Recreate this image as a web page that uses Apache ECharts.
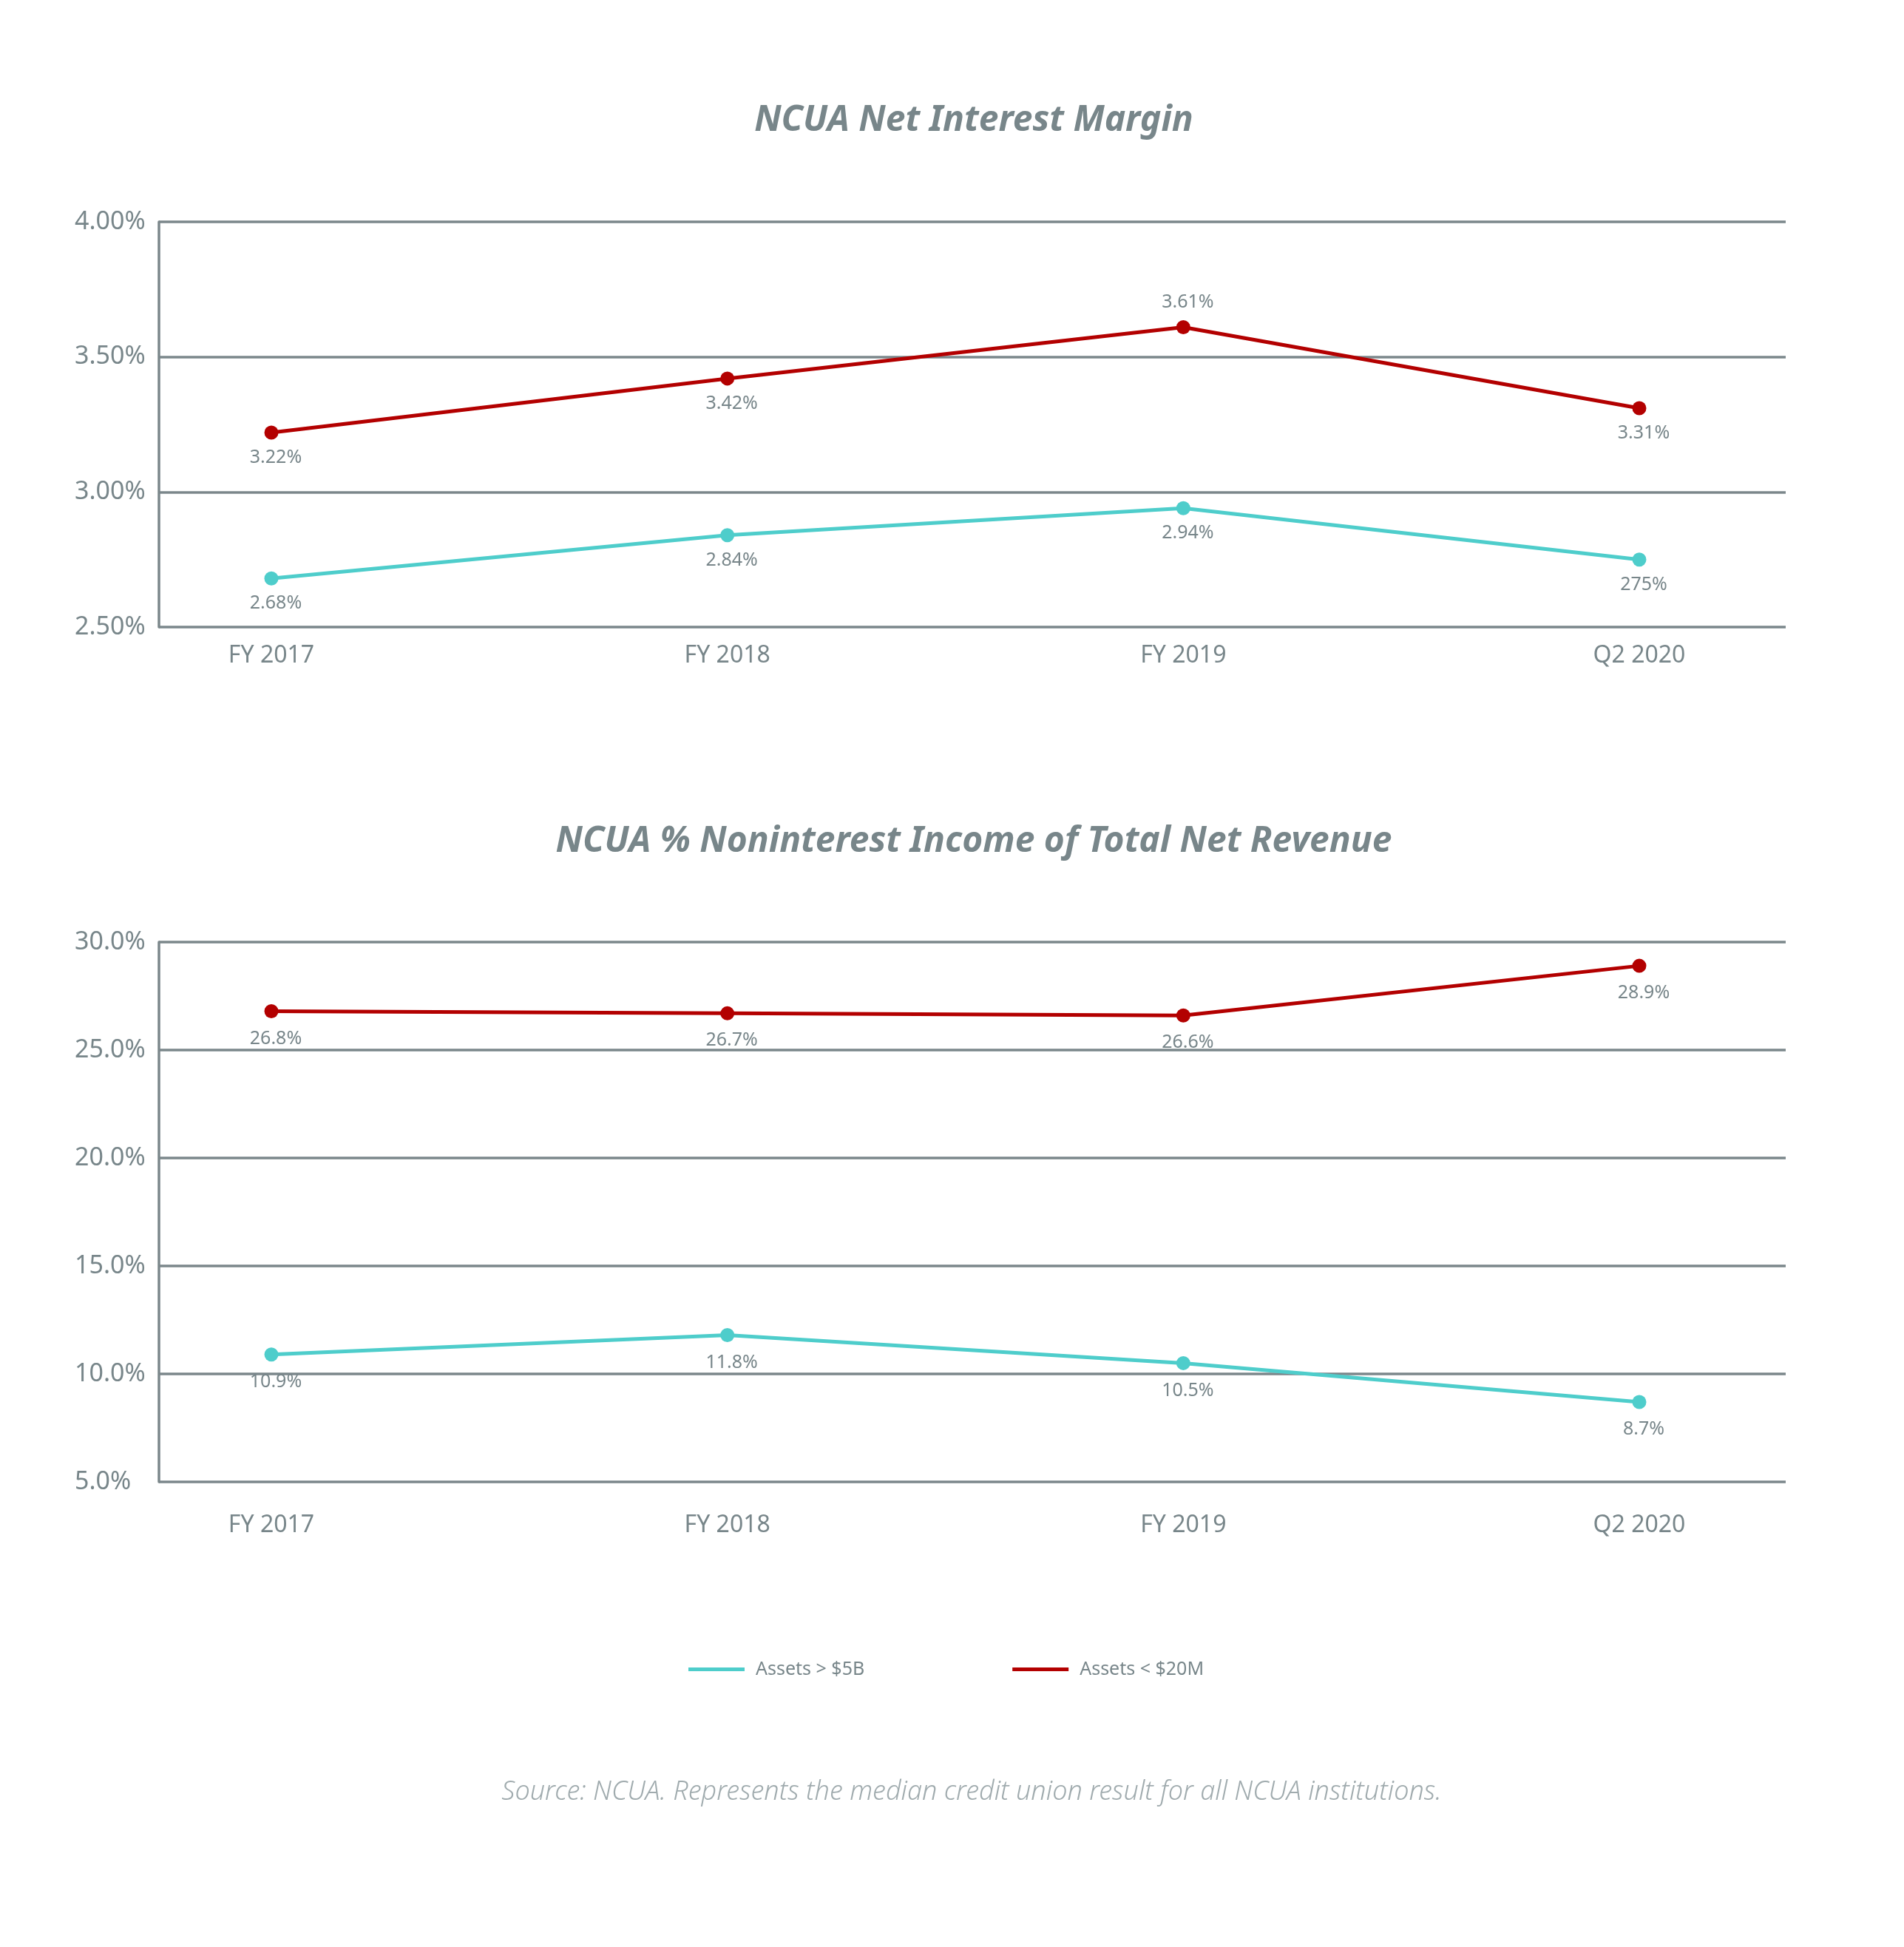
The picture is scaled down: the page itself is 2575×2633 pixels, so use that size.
<!DOCTYPE html>
<html>
<head>
<meta charset="utf-8">
<script src="https://cdn.jsdelivr.net/npm/echarts@6/dist/echarts.min.js"></script>
<style>
  html, body { margin: 0; padding: 0; background: #ffffff; }
  #chart { width: 2575px; height: 2633px; }
</style>
</head>
<body>
<div id="chart"></div>
<script>
// ---- Data ----
const categories = ['FY 2017', 'FY 2018', 'FY 2019', 'Q2 2020'];
const seriesNames = ['Assets > $5B', 'Assets < $20M'];

// Chart 1: NCUA Net Interest Margin (%)
const nimLarge = [2.68, 2.84, 2.94, 2.75];
const nimSmall = [3.22, 3.42, 3.61, 3.31];
const nimLargeLabels = ['2.68%', '2.84%', '2.94%', '275%'];
const nimSmallLabels = ['3.22%', '3.42%', '3.61%', '3.31%'];
const nimTicks = { min: 2.5, max: 4.0, interval: 0.5 };

// Chart 2: NCUA % Noninterest Income of Total Net Revenue (%)
const nonIntLarge = [10.9, 11.8, 10.5, 8.7];
const nonIntSmall = [26.8, 26.7, 26.6, 28.9];
const nonIntLargeLabels = ['10.9%', '11.8%', '10.5%', '8.7%'];
const nonIntSmallLabels = ['26.8%', '26.7%', '26.6%', '28.9%'];
const nonIntTicks = { min: 5, max: 30, interval: 5 };

const titles = ['NCUA Net Interest Margin', 'NCUA % Noninterest Income of Total Net Revenue'];
const sourceNote = 'Source: NCUA. Represents the median credit union result for all NCUA institutions.';

// ---- Styles ----
const FONT = '"Noto Sans", "Open Sans", sans-serif';
const GRAY = '#78868a';
const AXIS_GRAY = '#7b878b';
const CYAN = '#4ecdcb';
const RED = '#b30000';

const chart = echarts.init(document.getElementById('chart'), null, { renderer: 'canvas' });

function frameY(gridIndex, ticks, digits) {
  return {
    type: 'value', gridIndex: gridIndex,
    min: ticks.min, max: ticks.max, interval: ticks.interval,
    axisLine: { show: true, lineStyle: { color: AXIS_GRAY, width: 3.5 } },
    axisTick: { show: false },
    splitLine: { show: true, lineStyle: { color: AXIS_GRAY, width: 3.5 } },
    axisLabel: {
      align: 'left', margin: 114, color: GRAY, fontSize: 34, fontFamily: FONT,
      formatter: function (v) { return v.toFixed(digits) + '%'; }
    }
  };
}
function dataY(gridIndex, ticks) {
  return { type: 'value', gridIndex: gridIndex, min: ticks.min, max: ticks.max, interval: ticks.interval, show: false };
}
function dataX(gridIndex, margin) {
  return {
    type: 'category', gridIndex: gridIndex, data: categories, boundaryGap: false,
    axisLine: { show: false }, axisTick: { show: false }, splitLine: { show: false },
    axisLabel: { margin: margin, color: GRAY, fontSize: 32, fontFamily: FONT }
  };
}
function lineSeries(name, color, xIdx, yIdx, values, labels, topIdx, dist) {
  return {
    name: name, type: 'line', xAxisIndex: xIdx, yAxisIndex: yIdx,
    data: values.map(function (v, i) {
      return { value: v, label: { position: i === topIdx ? 'top' : 'bottom' } };
    }),
    symbol: 'circle', symbolSize: 19, z: 5,
    lineStyle: { color: color, width: 5 },
    itemStyle: { color: color },
    label: {
      show: true, distance: dist, offset: [6, 0], color: GRAY, fontSize: 25, fontFamily: FONT,
      formatter: function (p) { return labels[p.dataIndex]; }
    },
    emphasis: { disabled: true },
    animation: false
  };
}

const option = {
  backgroundColor: '#ffffff',
  animation: false,
  grid: [
    { left: 215, top: 300, width: 2200, height: 548 },   // chart 1 frame
    { left: 367, top: 300, width: 1850, height: 548 },   // chart 1 data
    { left: 215, top: 1274, width: 2200, height: 730 },  // chart 2 frame
    { left: 367, top: 1274, width: 1850, height: 730 }   // chart 2 data
  ],
  xAxis: [
    { type: 'value', gridIndex: 0, min: 0, max: 1, show: false },
    dataX(1, 23),
    { type: 'value', gridIndex: 2, min: 0, max: 1, show: false },
    dataX(3, 43)
  ],
  yAxis: [
    frameY(0, nimTicks, 2),
    dataY(1, nimTicks),
    frameY(2, nonIntTicks, 1),
    dataY(3, nonIntTicks)
  ],
  legend: {
    data: seriesNames,
    left: 926, top: 2240,
    icon: 'rect', itemWidth: 76, itemHeight: 5, itemGap: 200,
    textStyle: { color: GRAY, fontSize: 25, fontFamily: FONT, padding: [0, 0, 0, 10] },
    selectedMode: false
  },
  series: [
    lineSeries(seriesNames[0], CYAN, 1, 1, nimLarge, nimLargeLabels, -1, 12),
    lineSeries(seriesNames[1], RED, 1, 1, nimSmall, nimSmallLabels, 2, 12),
    lineSeries(seriesNames[0], CYAN, 3, 3, nonIntLarge, nonIntLargeLabels, -1, 15),
    lineSeries(seriesNames[1], RED, 3, 3, nonIntSmall, nonIntSmallLabels, -1, 15)
  ],
  graphic: [
    { type: 'text', x: 1317, y: 163, silent: true,
      style: { text: titles[0], align: 'center', verticalAlign: 'middle', fill: GRAY,
               font: 'italic bold 48px ' + FONT } },
    { type: 'text', x: 1317, y: 1138, silent: true,
      style: { text: titles[1], align: 'center', verticalAlign: 'middle', fill: GRAY,
               font: 'italic bold 48px ' + FONT } },
    { type: 'text', x: 1314, y: 2424, silent: true,
      style: { text: sourceNote, align: 'center', verticalAlign: 'middle', fill: '#a0abae',
               font: 'italic 300 36px ' + FONT } }
  ]
};
chart.setOption(option);
</script>
</body>
</html>
